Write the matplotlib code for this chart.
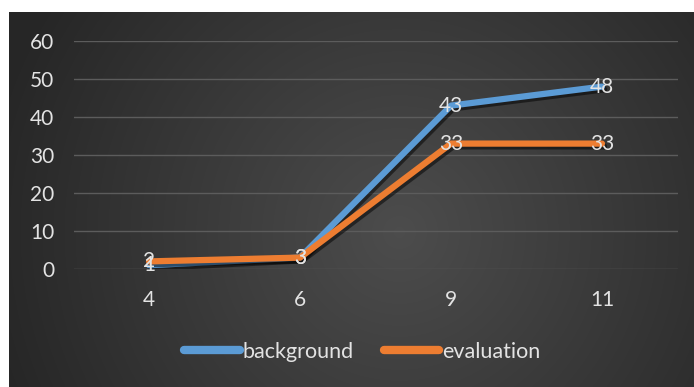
import matplotlib
matplotlib.use("Agg")
import matplotlib.pyplot as plt
import matplotlib.patheffects as pe
import numpy as np

# data
categories = ["4", "6", "9", "11"]
background = [1, 3, 43, 48]
evaluation = [2, 3, 33, 33]

plt.rcParams['font.family'] = ['Lato', 'DejaVu Sans']

W, H = 694, 387
fig = plt.figure(figsize=(W / 100, H / 100), dpi=100)
fig.patch.set_facecolor('white')

# dark radial gradient panel
bg = fig.add_axes([9 / W, 0, 1 - 9 / W, (H - 12) / H])
yy, xx = np.mgrid[0:375, 0:685]
cx, cy = 390, 220
r = np.sqrt(((xx - cx) / 420.0) ** 2 + ((yy - cy) / 420.0) ** 2)
r = np.clip(r, 0, 1)
shade = 0.30 - 0.15 * r
img = np.dstack([shade, shade, shade])
bg.imshow(img, aspect='auto', extent=[0, 1, 0, 1], origin='upper')
bg.axis('off')

ax = fig.add_axes([73.5 / W, (H - 269) / H, 604 / W, 228 / H])
ax.patch.set_alpha(0)
x = np.arange(len(categories))
shadow = [pe.SimpleLineShadow(offset=(1.5, -2), shadow_color='black', alpha=0.5), pe.Normal()]
ax.plot(x, background, color='#5b9bd5', lw=4.5, solid_capstyle='round',
        solid_joinstyle='round', path_effects=shadow, label='background', zorder=3)
ax.plot(x, evaluation, color='#ed7d31', lw=4.5, solid_capstyle='round',
        solid_joinstyle='round', path_effects=shadow, label='evaluation', zorder=4)

lab_col = '#e3e3e3'
for xi, v in zip(x, background):
    ax.text(xi, v, str(v), ha='center', va='center', color=lab_col, fontsize=15, zorder=5)
for xi, v in zip(x, evaluation):
    ax.text(xi, v, str(v), ha='center', va='center', color=lab_col, fontsize=15, zorder=5)

ax.set_xlim(-0.5, len(categories) - 0.5)
ax.set_ylim(0, 60)
ax.set_yticks(range(0, 61, 10))
ax.set_xticks(x)
ax.set_xticklabels(categories)
ax.grid(axis='y', color='#5c5c5c', lw=1)
ax.set_axisbelow(True)
for s in ax.spines.values():
    s.set_visible(False)
ax.tick_params(length=0, colors=lab_col, labelsize=15)
ax.tick_params(axis='y', pad=14)
ax.tick_params(axis='x', pad=15)

leg = fig.legend(loc='center', bbox_to_anchor=(362 / W, 1 - 352 / H), ncol=2,
                 frameon=False, fontsize=15.5, handlelength=2.6, handletextpad=0.1,
                 columnspacing=1.4, labelcolor=lab_col)
for h in leg.get_lines():
    h.set_linewidth(6)
    h.set_path_effects([])

fig.savefig('out.png', dpi=100)
